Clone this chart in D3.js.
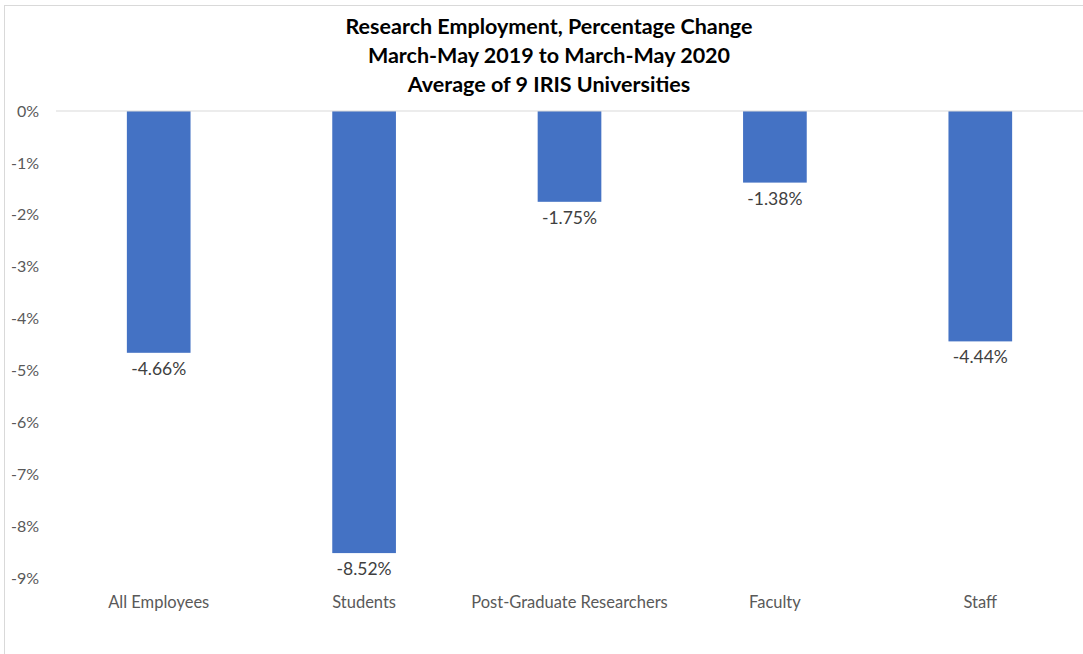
<!DOCTYPE html>
<html>
<head>
<meta charset="utf-8">
<script src="https://cdn.jsdelivr.net/npm/d3@7"></script>
<style>
  body { margin: 0; background: #fff; }
  svg { display: block; font-family: Lato, "Open Sans", sans-serif; }
</style>
</head>
<body>
<svg id="chart"></svg>
<script>
const categories = ['All Employees', 'Students', 'Post-Graduate Researchers', 'Faculty', 'Staff'];
const values = [-4.66, -8.52, -1.75, -1.38, -4.44];
const yTicks = [0, -1, -2, -3, -4, -5, -6, -7, -8, -9];
const titleLines = [
  'Research Employment, Percentage Change',
  'March-May 2019 to March-May 2020',
  'Average of 9 IRIS Universities'
];

const width = 1083;
const height = 654;
const margin = { top: 111, right: 0, bottom: 76, left: 56 };

const svg = d3.select('#chart')
  .attr('width', width)
  .attr('height', height);

// chart frame
svg.append('rect')
  .attr('x', 4.5).attr('y', 5.5)
  .attr('width', width).attr('height', height)
  .attr('fill', 'none')
  .attr('stroke', '#d9d9d9');

const x = d3.scaleBand()
  .domain(categories)
  .range([margin.left, width - margin.right])
  .paddingInner(0.69)
  .paddingOuter(0.345);

const y = d3.scaleLinear()
  .domain([0, -9])
  .range([margin.top, height - margin.bottom]);

// title
svg.append('g')
  .selectAll('text')
  .data(titleLines)
  .enter().append('text')
  .attr('x', 549)
  .attr('y', (d, i) => 34 + i * 29)
  .attr('text-anchor', 'middle')
  .attr('font-size', 21.5)
  .attr('font-weight', 'bold')
  .attr('fill', '#000')
  .text(d => d);

// y axis labels only
const yAxis = svg.append('g')
  .attr('transform', `translate(39,0)`)
  .call(d3.axisLeft(y).tickValues(yTicks).tickSize(0).tickFormat(d => d + '%'));
yAxis.select('.domain').remove();
yAxis.selectAll('text')
  .attr('x', 0)
  .attr('font-size', 16)
  .attr('font-family', 'Lato, "Open Sans", sans-serif')
  .attr('fill', '#595959');

// bars
svg.append('g')
  .attr('fill', '#4472c4')
  .selectAll('rect')
  .data(values)
  .enter().append('rect')
  .attr('x', (d, i) => x(categories[i]))
  .attr('y', y(0))
  .attr('width', x.bandwidth())
  .attr('height', d => y(d) - y(0));

// zero line
svg.append('line')
  .attr('x1', margin.left).attr('x2', width)
  .attr('y1', y(0)).attr('y2', y(0))
  .attr('stroke', '#d9d9d9')
  .attr('stroke-width', 1);

// value labels
svg.append('g')
  .selectAll('text')
  .data(values)
  .enter().append('text')
  .attr('x', (d, i) => x(categories[i]) + x.bandwidth() / 2)
  .attr('y', d => y(d) + 22)
  .attr('text-anchor', 'middle')
  .attr('font-size', 17.5)
  .attr('fill', '#404040')
  .text(d => d.toFixed(2) + '%');

// category labels
const xAxis = svg.append('g')
  .attr('transform', `translate(0,${y(-9)})`)
  .call(d3.axisBottom(x).tickSize(0));
xAxis.select('.domain').remove();
xAxis.selectAll('text')
  .attr('dy', 0)
  .attr('y', 30)
  .attr('font-size', 16.5)
  .attr('font-family', 'Lato, "Open Sans", sans-serif')
  .attr('fill', '#595959');
</script>
</body>
</html>
